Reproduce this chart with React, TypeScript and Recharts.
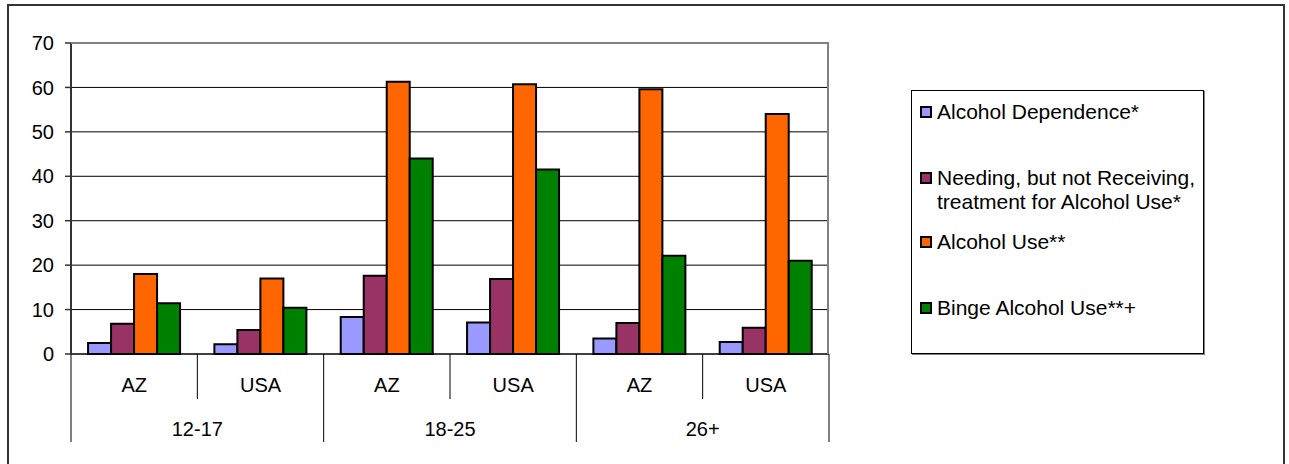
import { BarChart, Bar, XAxis, YAxis, CartesianGrid, Legend } from "recharts";

const groups = ["12-17", "18-25", "26+"];
const regions = ["AZ", "USA"];
const seriesNames = [
  "Alcohol Dependence*",
  "Needing, but not Receiving,\ntreatment for Alcohol Use*",
  "Alcohol Use**",
  "Binge Alcohol Use**+",
];
const dependence = [2.5, 2.2, 8.3, 7.1, 3.5, 2.7];
const needing = [6.8, 5.4, 17.6, 16.9, 7.0, 5.9];
const alcoholUse = [18.0, 17.0, 61.3, 60.7, 59.6, 54.0];
const binge = [11.4, 10.4, 44.0, 41.5, 22.1, 21.0];
const yTicks = [0, 10, 20, 30, 40, 50, 60, 70];

const colors = ["#9999FF", "#993366", "#FF6600", "#008000"];
const keys = ["dependence", "needing", "alcoholUse", "binge"];

const data = groups.flatMap((g, gi) =>
  regions.map((r, ri) => {
    const i = gi * regions.length + ri;
    return {
      key: `${g}|${r}`,
      group: g,
      region: r,
      dependence: dependence[i],
      needing: needing[i],
      alcoholUse: alcoholUse[i],
      binge: binge[i],
    };
  })
);

const W = 1289;
const H = 464;
const PLOT_L = 71;
const PLOT_R = 829;
const PLOT_T = 43;
const PLOT_B = 354;
const BAND = (PLOT_R - PLOT_L) / data.length;
const FONT = "'Liberation Sans', Arial, sans-serif";

function CategoryTick(props: any) {
  const { x, index } = props;
  const row = data[index];
  if (!row) return null;
  const ri = regions.indexOf(row.region);
  const left = x - BAND / 2;
  const right = x + BAND / 2;
  return (
    <g>
      <line x1={left} x2={left} y1={PLOT_B} y2={ri === 0 ? 442 : 399} stroke="#000" strokeWidth={1} />
      {index === data.length - 1 && (
        <line x1={right} x2={right} y1={PLOT_B} y2={442} stroke="#000" strokeWidth={1} />
      )}
      <text x={x} y={385} textAnchor="middle" dominantBaseline="central" fontSize={20} fill="#000" fontFamily={FONT}>
        {row.region}
      </text>
      {ri === regions.length - 1 && (
        <text x={left} y={429} textAnchor="middle" dominantBaseline="central" fontSize={20} fill="#000" fontFamily={FONT}>
          {row.group}
        </text>
      )}
    </g>
  );
}

const itemTops = [9, 75, 139, 205];

function LegendBox(props: any) {
  const items = [...(props.payload || [])].sort(
    (a: any, b: any) => seriesNames.indexOf(a.value) - seriesNames.indexOf(b.value)
  );
  return (
    <div
      style={{
        position: "relative",
        width: 293,
        height: 264,
        boxSizing: "border-box",
        border: "1px solid #000",
        boxShadow: "1px 1px 0 #808080",
        background: "#fff",
        fontFamily: FONT,
        fontSize: 21,
        lineHeight: "24px",
        color: "#000",
      }}
    >
      {items.map((p: any, i: number) => (
        <div key={i} style={{ position: "absolute", left: 8, top: itemTops[i], display: "flex", alignItems: "flex-start", whiteSpace: "nowrap" }}>
          <span
            style={{
              display: "inline-block",
              flex: "none",
              width: 12,
              height: 12,
              marginTop: 6,
              marginRight: 5,
              background: p.color,
              border: "2px solid #000",
              boxSizing: "border-box",
            }}
          />
          <span style={{ whiteSpace: "pre" }}>{p.value}</span>
        </div>
      ))}
    </div>
  );
}

export default function App() {
  return (
    <div style={{ position: "absolute", left: 0, top: 0, width: W, height: H, overflow: "hidden", background: "#fff" }}>
      <div
        style={{
          position: "absolute",
          left: 7,
          top: 4,
          width: 1278,
          height: 520,
          border: "2px solid #333",
          boxSizing: "border-box",
        }}
      />
      <div style={{ position: "absolute", left: 0, top: 0 }}>
        <BarChart
          width={W}
          height={H}
          data={data}
          margin={{ top: PLOT_T, right: W - PLOT_R, bottom: 0, left: PLOT_L - 60 }}
          barGap={0}
          barCategoryGap="13.5%"
        >
          <CartesianGrid horizontal vertical={false} stroke="#000" strokeWidth={1} horizontalValues={[10, 20, 30, 40, 50, 60]} />
          <XAxis
            dataKey="key"
            height={H - PLOT_B}
            axisLine={{ stroke: "#000", strokeWidth: 1.5 }}
            tickLine={false}
            interval={0}
            tick={<CategoryTick />}
          />
          <YAxis
            width={60}
            domain={[0, 70]}
            ticks={yTicks}
            interval={0}
            axisLine={{ stroke: "#333", strokeWidth: 2 }}
            tickLine={{ stroke: "#333", strokeWidth: 1.5 }}
            tickSize={6}
            tickMargin={11}
            tick={{ fill: "#000", fontSize: 20, fontFamily: FONT }}
          />
          <Legend
            layout="vertical"
            verticalAlign="middle"
            align="center"
            content={<LegendBox />}
            wrapperStyle={{ position: "absolute", left: 911, top: 90, width: 293, height: 264 }}
          />
          {keys.map((k, i) => (
            <Bar
              key={k}
              dataKey={k}
              name={seriesNames[i]}
              fill={colors[i]}
              stroke="#000"
              strokeWidth={2}
              isAnimationActive={false}
            />
          ))}
        </BarChart>
      </div>
      <div
        style={{
          position: "absolute",
          left: PLOT_L,
          top: PLOT_T - 1,
          width: PLOT_R - PLOT_L,
          height: PLOT_B - PLOT_T + 1,
          borderTop: "2px solid #808080",
          borderRight: "2px solid #808080",
          boxSizing: "border-box",
          pointerEvents: "none",
        }}
      />
    </div>
  );
}
